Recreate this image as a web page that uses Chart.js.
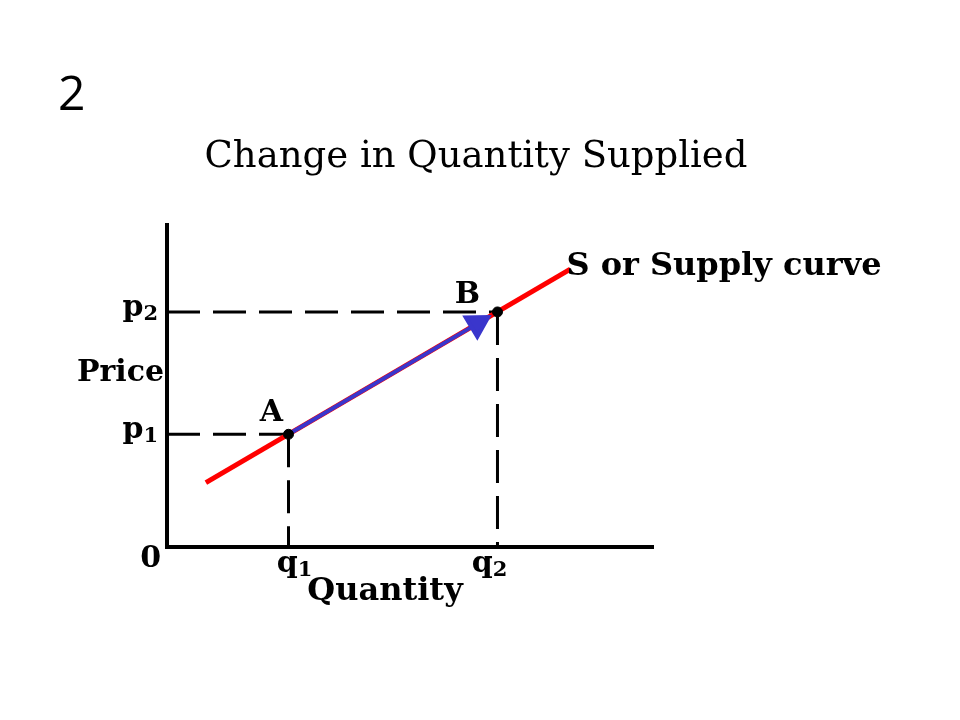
<!DOCTYPE html>
<html lang="en">
<head>
<meta charset="UTF-8">
<title>Change in Quantity Supplied</title>
<script src="https://cdn.jsdelivr.net/npm/chart.js"></script>
<style>
  body { margin: 0; background: #fff; }
  #chart { display: block; }
</style>
</head>
<body>
<canvas id="chart" width="960" height="720"></canvas>
<script>
// the two points on the supply curve
const pointNames = ['A', 'B'];
const quantities = [2.5, 6.8];          // q1, q2
const prices = [3.5, 7.3];              // p1, p2
const quantityTicks = [['q', '1'], ['q', '2']];
const priceTicks = [['p', '1'], ['p', '2']];

// supply curve end points
const supplyX = [0.8, 8.3];
const supplyY = [2.0, 8.63];

// movement along the curve (A towards B)
const arrowX = [2.5, 6.38];
const arrowY = [3.5, 6.93];

const slideNumber = '2';
const chartTitle = 'Change in Quantity Supplied';
const curveLabel = 'S or Supply curve';
const xTitle = 'Quantity';
const yTitle = 'Price';

const BOLD = '"DejaVu Serif", "Liberation Serif", serif';

function pts(xs, ys) {
  return xs.map((x, i) => ({ x: x, y: ys[i] }));
}

// dashed guides from the axes to each point
const guides = [];
quantities.forEach((q, i) => {
  guides.push(pts([0, q], [prices[i], prices[i]]));
  guides.push(pts([q, q], [prices[i], 0]));
});

function drawSub(ctx, base, sub, x, y, size, align) {
  ctx.font = 'bold ' + size + 'px ' + BOLD;
  const w1 = ctx.measureText(base).width;
  const subSize = Math.round(size * 0.7);
  ctx.font = 'bold ' + subSize + 'px ' + BOLD;
  const w2 = ctx.measureText(sub).width;
  let left = x;
  if (align === 'center') left = x - (w1 + w2) / 2;
  if (align === 'right') left = x - (w1 + w2);
  ctx.textAlign = 'left';
  ctx.font = 'bold ' + size + 'px ' + BOLD;
  ctx.fillText(base, left, y);
  ctx.font = 'bold ' + subSize + 'px ' + BOLD;
  ctx.fillText(sub, left + w1, y + 4);
}

const labelsPlugin = {
  id: 'labels',
  afterDraw(chart) {
    const ctx = chart.ctx;
    const xs = chart.scales.x, ys = chart.scales.y;
    ctx.save();
    ctx.fillStyle = '#000';
    ctx.textBaseline = 'alphabetic';

    ctx.font = '48px "Open Sans", "Noto Sans", sans-serif';
    ctx.textAlign = 'left';
    ctx.fillText(slideNumber, 58, 110);

    ctx.font = '37px "DejaVu Serif", serif';
    ctx.textAlign = 'center';
    ctx.fillText(chartTitle, 476, 167);

    ctx.font = 'bold 30px ' + BOLD;
    ctx.textAlign = 'right';
    ctx.fillText(yTitle, 164, 381);
    ctx.fillText('0', 161, 567);
    ctx.font = 'bold 32px ' + BOLD;
    ctx.textAlign = 'center';
    ctx.fillText(xTitle, 385, 600);

    priceTicks.forEach((t, i) => {
      drawSub(ctx, t[0], t[1], 158, ys.getPixelForValue(prices[i]) + 4, 30, 'right');
    });
    const qShift = [6, -8];
    quantityTicks.forEach((t, i) => {
      drawSub(ctx, t[0], t[1], xs.getPixelForValue(quantities[i]) + qShift[i], 572, 30, 'center');
    });

    ctx.font = 'bold 30px ' + BOLD;
    ctx.textAlign = 'center';
    const nameShift = [[-17, -13], [-30, -9]];
    pointNames.forEach((n, i) => {
      const px = xs.getPixelForValue(quantities[i]);
      const py = ys.getPixelForValue(prices[i]);
      ctx.fillText(n, px + nameShift[i][0], py + nameShift[i][1]);
    });

    ctx.font = 'bold 32px ' + BOLD;
    ctx.textAlign = 'left';
    ctx.fillText(curveLabel, xs.getPixelForValue(supplyX[1]) - 4, ys.getPixelForValue(supplyY[1]) + 6);
    ctx.restore();
  }
};

const datasets = [
  {
    data: pts(quantities, prices),
    showLine: false,
    pointRadius: 5,
    pointBackgroundColor: '#000',
    pointBorderColor: '#000'
  },
  {
    data: pts(arrowX, arrowY),
    showLine: true,
    borderColor: '#3a36cc',
    borderWidth: 4,
    pointStyle: 'triangle',
    pointRadius: [0, 13],
    pointRotation: [0, 59],
    pointBackgroundColor: '#3a36cc',
    pointBorderColor: '#3a36cc'
  },
  {
    data: pts(supplyX, supplyY),
    showLine: true,
    borderColor: '#ff0000',
    borderWidth: 5,
    pointRadius: 0
  }
].concat(guides.map(g => ({
  data: g,
  showLine: true,
  borderColor: '#000',
  borderWidth: 3,
  borderDash: [33, 13],
  pointRadius: 0
})));

new Chart(document.getElementById('chart'), {
  type: 'scatter',
  data: { datasets: datasets },
  options: {
    responsive: false,
    animation: false,
    layout: { padding: { left: 167, top: 225, right: 307, bottom: 173 } },
    plugins: { legend: { display: false }, tooltip: { enabled: false } },
    scales: {
      x: {
        min: 0, max: 10,
        grid: { display: false, drawTicks: false },
        ticks: { display: false },
        border: { display: true, color: '#000', width: 4 },
        afterFit: s => { s.height = 0; }
      },
      y: {
        min: 0, max: 10,
        grid: { display: false, drawTicks: false },
        ticks: { display: false },
        border: { display: true, color: '#000', width: 4 },
        afterFit: s => { s.width = 0; }
      }
    }
  },
  plugins: [labelsPlugin]
});
</script>
</body>
</html>
